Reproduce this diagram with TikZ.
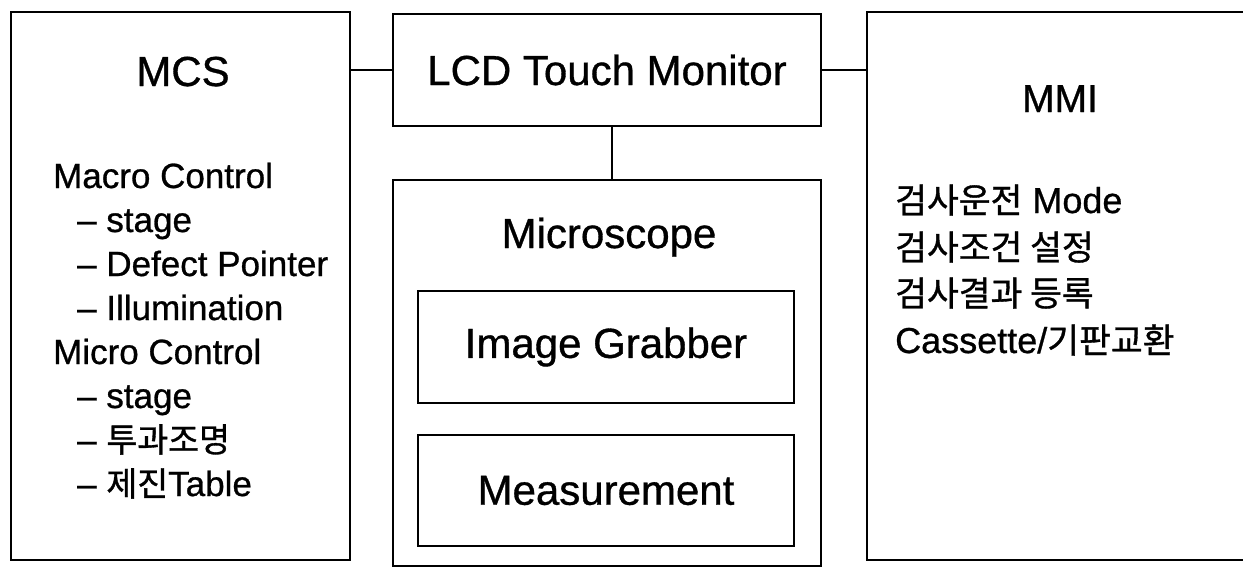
\documentclass[tikz,border=0pt]{standalone}
\usepackage{fontspec}
\setmainfont{Liberation Sans}[FakeBold=0.8]
\newfontfamily\kr{Noto Sans CJK KR}[Scale=0.96,FakeBold=1]
\begin{document}
\begin{tikzpicture}[x=1pt,y=-1pt,
  box/.style={draw, line width=2.4pt, rectangle, inner sep=0pt, outer sep=0pt},
  hdr/.style={font=\fontsize{42}{48}\selectfont},
  lbl/.style={hdr, anchor=base, inner sep=0pt},
  item/.style={font=\fontsize{35}{40}\selectfont, anchor=base west, inner sep=0pt},
  mitem/.style={font=\fontsize{36}{40}\selectfont, anchor=base west, inner sep=0pt},
  conn/.style={line width=2.4pt}]
\useasboundingbox (0,0) rectangle (1243,570);
% MCS
\node[box, minimum width=339pt, minimum height=548pt] (mcs) at (180.5,286) {};
\node[lbl] (mcst) at (183,86) {MCS};
\node[item] (m1) at (53,188) {Macro Control};
\node[item] (m2) at (77,232) {\textendash\ stage};
\node[item] (m3) at (77,276) {\textendash\ Defect Pointer};
\node[item] (m4) at (77,320) {\textendash\ Illumination};
\node[item] (m5) at (53,364) {Micro Control};
\node[item] (m6) at (77,408) {\textendash\ stage};
\node[item] (m7) at (77,452) {\textendash\ {\kr 투과조명}};
\node[item] (m8) at (77,496) {\textendash\ {\kr 제진}Table};
% LCD
\node[box, hdr, minimum width=428pt, minimum height=112pt] (lcd) at (607,70) {LCD Touch Monitor};
% Microscope
\node[box, minimum width=428pt, minimum height=386pt] (mic) at (607,373) {};
\node[lbl] (mict) at (609,248) {Microscope};
\node[box, hdr, minimum width=376pt, minimum height=112pt] (ig) at (606,347) {Image Grabber};
\node[box, hdr, minimum width=376pt, minimum height=111pt] (meas) at (606,490.5) {Measurement};
% MMI
\node[inner sep=0pt, outer sep=0pt, minimum width=390pt, minimum height=548pt] (mmi) at (1062,286) {};
\draw[line width=2.4pt] (mmi.north east) -- (mmi.north west) -- (mmi.south west) -- (mmi.south east);
\node[lbl, font=\fontsize{39}{44}\selectfont] (mmit) at (1060,112) {MMI};
\node[mitem] (n1) at (895,213) {{\kr 검사운전} Mode};
\node[mitem] (n2) at (895,260) {\kr 검사조건 설정};
\node[mitem] (n3) at (895,306) {\kr 검사결과 등록};
\node[mitem] (n4) at (895,353) {Cassette/{\kr 기판교환}};
% connectors
\draw[conn] (lcd.west) -- (lcd.west -| mcs.east);
\draw[conn] (lcd.east) -- (lcd.east -| mmi.west);
\draw[conn] ([xshift=5pt]lcd.south) -- ([xshift=5pt]lcd.south |- mic.north);
\end{tikzpicture}
\end{document}
